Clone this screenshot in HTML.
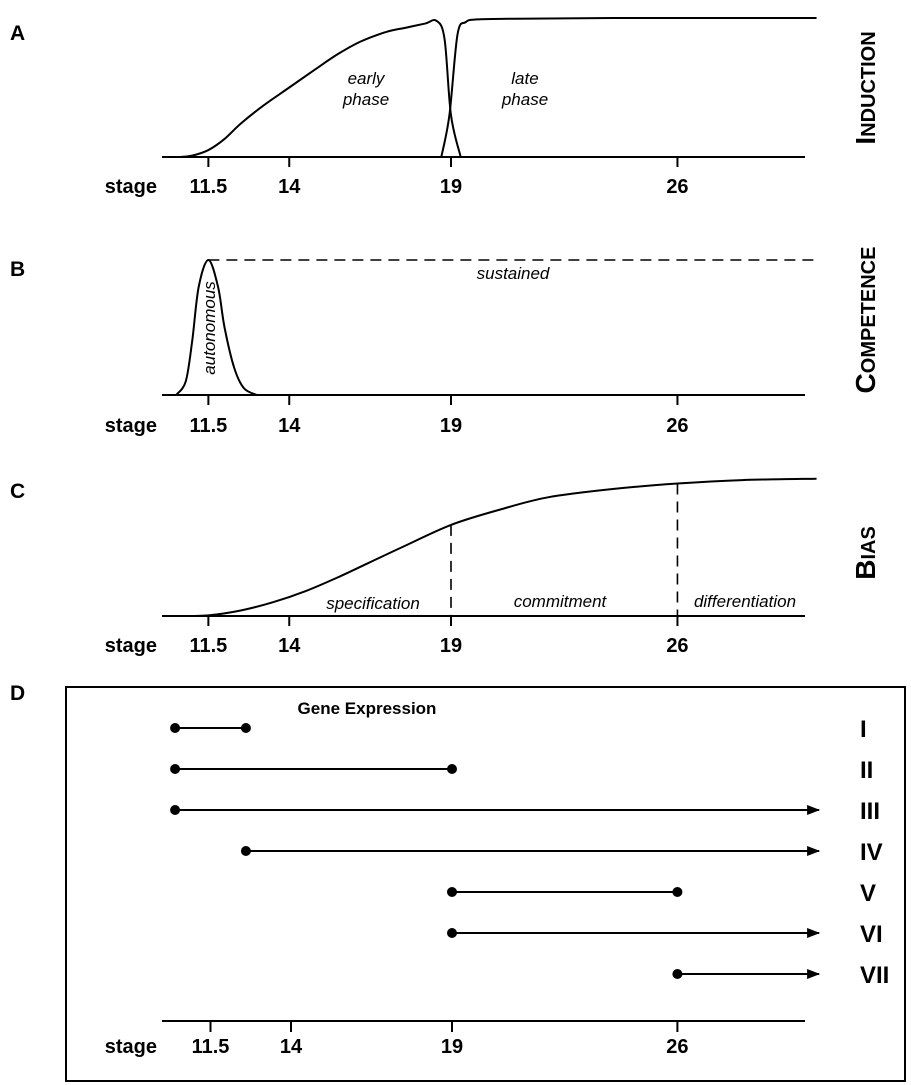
<!DOCTYPE html>
<html><head><meta charset="utf-8"><style>
html,body{margin:0;padding:0;background:#fff;}
svg{display:block;font-family:"Liberation Sans",Arial,sans-serif;}
.tk{font-size:20px;font-weight:bold;text-anchor:middle;}
.it{font-size:17px;font-style:italic;}
.pl{font-size:21px;font-weight:bold;}
.rn{font-size:24px;font-weight:bold;}
</style></head><body>
<svg id="chart" width="911" height="1085" viewBox="0 0 911 1085"></svg>
<script>
// ---- data ----
const tickStages = [11.5, 14, 19, 26];
const tickLabels = ["11.5", "14", "19", "26"];
// Panel A induction (stage, relative level)
const inductionEarlyStage = [10.6, 11.0, 11.5, 12.0, 12.5, 13.2, 14.0, 14.8, 15.5, 16.2, 17.0, 17.6, 18.2, 18.55, 18.8, 19.0, 19.3];
const inductionEarlyLevel = [0, 0.01, 0.05, 0.13, 0.24, 0.37, 0.5, 0.63, 0.74, 0.83, 0.9, 0.93, 0.96, 0.98, 0.85, 0.3, 0];
const inductionLateStage = [18.7, 18.95, 19.2, 19.45, 19.8, 21, 24, 28, 30.3];
const inductionLateLevel = [0, 0.3, 0.88, 0.97, 0.99, 0.995, 1.0, 1.0, 1.0];
// Panel B competence
const competenceStage = [10.5, 10.8, 11.0, 11.2, 11.5, 11.8, 12.0, 12.3, 12.6, 13.0];
const competenceLevel = [0, 0.1, 0.4, 0.8, 1.0, 0.8, 0.5, 0.2, 0.05, 0];
const sustainedStart = 11.5, sustainedEnd = 30.3;
// Panel C bias
const biasStage = [10.5, 11.5, 12.5, 13.5, 14.5, 15.5, 16.5, 17.5, 19, 20.5, 22, 24, 26, 28, 30.3];
const biasLevel = [0, 0.005, 0.04, 0.1, 0.18, 0.28, 0.39, 0.5, 0.66, 0.77, 0.86, 0.92, 0.96, 0.985, 0.995];
const biasMarkers = [19, 26];
// Panel D gene expression
const geneNames = ["I", "II", "III", "IV", "V", "VI", "VII"];
const geneStart = [10.4, 10.4, 10.4, 12.6, 19, 19, 26];
const geneEnd = [12.6, 19, 30.4, 30.4, 26, 30.4, 30.4];
const geneOpenEnded = [false, false, true, true, false, true, true];

// ---- drawing ----
const svg = document.getElementById('chart');
const NS = 'http://www.w3.org/2000/svg';
function mk(tag, attrs, parent) {
  const e = document.createElementNS(NS, tag);
  for (const k in attrs) e.setAttribute(k, attrs[k]);
  (parent || svg).appendChild(e);
  return e;
}
function txt(str, attrs, parent) { const t = mk('text', attrs, parent); t.textContent = str; return t; }
const xS = s => 451 + (s - 19) * 32.35;
const xD = s => 452 + (s - 19) * 32.2;

function smoothPath(pts) {
  let d = `M${pts[0][0]},${pts[0][1]}`;
  for (let i = 0; i < pts.length - 1; i++) {
    const p0 = pts[Math.max(0, i - 1)], p1 = pts[i], p2 = pts[i + 1], p3 = pts[Math.min(pts.length - 1, i + 2)];
    const c1x = p1[0] + (p2[0] - p0[0]) / 6, c1y = p1[1] + (p2[1] - p0[1]) / 6;
    const c2x = p2[0] - (p3[0] - p1[0]) / 6, c2y = p2[1] - (p3[1] - p1[1]) / 6;
    d += ` C${c1x},${c1y} ${c2x},${c2y} ${p2[0]},${p2[1]}`;
  }
  return d;
}

function axis(name, y, xf, x0, x1, labelY, tickLen) {
  const g = mk('g', {});
  
  
  mk('line', {x1: x0, x2: x1, y1: y, y2: y, stroke: '#000', 'stroke-width': 2}, g);
  tickStages.forEach((s, i) => {
    mk('line', {x1: xf(s), x2: xf(s), y1: y, y2: y + tickLen, stroke: '#000', 'stroke-width': 2}, g);
    const t = txt(tickLabels[i], {x: xf(s), y: labelY, class: 'tk'}, g);
    
    
  });
  const st = txt('stage', {x: 157, y: labelY, class: 'tk', style: 'text-anchor:end'}, g);
  
  
}
function panelLetter(l, y) {
  const t = txt(l, {x: 10, y: y, class: 'pl'});
  
  
}
function sideTitle(big, small, cy, name) {
  const t = mk('text', {transform: `translate(875,${cy}) rotate(-90)`, 'text-anchor': 'middle', 'font-weight': 'bold', 'font-size': 20});
  
  
  const a = mk('tspan', {'font-size': 28}, t); a.textContent = big;
  const b = mk('tspan', {}, t); b.textContent = small;
}

// Panel A
panelLetter('A', 40);
const baseA = 157, hA = 139;
let p = mk('path', {d: smoothPath(inductionEarlyStage.map((s, i) => [xS(s), baseA - inductionEarlyLevel[i] * hA])), fill: 'none', stroke: '#000', 'stroke-width': 2});


p = mk('path', {d: smoothPath(inductionLateStage.map((s, i) => [xS(s), baseA - inductionLateLevel[i] * hA])), fill: 'none', stroke: '#000', 'stroke-width': 2});


axis('axis-a', baseA, xS, 162, 805, 193, 10);
txt('early', {x: 366, y: 84, class: 'it', 'text-anchor': 'middle'});
txt('phase', {x: 366, y: 105, class: 'it', 'text-anchor': 'middle'});
txt('late', {x: 525, y: 84, class: 'it', 'text-anchor': 'middle'});
txt('phase', {x: 525, y: 105, class: 'it', 'text-anchor': 'middle'});
sideTitle('I', 'NDUCTION', 88, 'induction-title');

// Panel B
panelLetter('B', 276);
const baseB = 395, hB = 135;
p = mk('path', {d: smoothPath(competenceStage.map((s, i) => [xS(s), baseB - competenceLevel[i] * hB])), fill: 'none', stroke: '#000', 'stroke-width': 2});


p = mk('line', {x1: xS(sustainedStart), x2: xS(sustainedEnd), y1: baseB - hB, y2: baseB - hB, stroke: '#000', 'stroke-width': 1.6, 'stroke-dasharray': '11,7'});


axis('axis-b', baseB, xS, 162, 805, 432, 10);
txt('autonomous', {transform: 'translate(215,328) rotate(-90)', class: 'it', 'text-anchor': 'middle'});
txt('sustained', {x: 513, y: 279, class: 'it', 'text-anchor': 'middle'});
sideTitle('C', 'OMPETENCE', 320, 'competence-title');

// Panel C
panelLetter('C', 498);
const baseC = 616, hC = 138;
p = mk('path', {d: smoothPath(biasStage.map((s, i) => [xS(s), baseC - biasLevel[i] * hC])), fill: 'none', stroke: '#000', 'stroke-width': 2});


function interp(s) { for (let i = 0; i < biasStage.length - 1; i++) if (s >= biasStage[i] && s <= biasStage[i + 1]) { const f = (s - biasStage[i]) / (biasStage[i + 1] - biasStage[i]); return biasLevel[i] + f * (biasLevel[i + 1] - biasLevel[i]); } return 1; }
biasMarkers.forEach(s => {
  const l = mk('line', {x1: xS(s), x2: xS(s), y1: baseC - interp(s) * hC, y2: baseC, stroke: '#000', 'stroke-width': 1.6, 'stroke-dasharray': '11,7'});
  
  
});
axis('axis-c', baseC, xS, 162, 805, 652, 10);
txt('specification', {x: 373, y: 609, class: 'it', 'text-anchor': 'middle'});
txt('commitment', {x: 560, y: 607, class: 'it', 'text-anchor': 'middle'});
txt('differentiation', {x: 745, y: 607, class: 'it', 'text-anchor': 'middle'});
sideTitle('B', 'IAS', 553, 'bias-title');

// Panel D
panelLetter('D', 700);
const box = mk('rect', {x: 66, y: 687, width: 839, height: 394, fill: 'none', stroke: '#000', 'stroke-width': 2});


const gt = txt('Gene Expression', {x: 367, y: 714, 'font-size': 17, 'font-weight': 'bold', 'text-anchor': 'middle'});


const defs = mk('defs', {});
const mkr = mk('marker', {id: 'arr', markerWidth: 14, markerHeight: 10, refX: 12, refY: 5, orient: 'auto', markerUnits: 'userSpaceOnUse'}, defs);
mk('path', {d: 'M0,0 L13,5 L0,10 Z', fill: '#000'}, mkr);
geneNames.forEach((n, i) => {
  const y = 728 + i * 41;
  const g = mk('g', {});
  
  
  const x0 = xD(geneStart[i]), x1 = xD(geneEnd[i]);
  const l = mk('line', {x1: x0, x2: x1, y1: y, y2: y, stroke: '#000', 'stroke-width': 2}, g);
  if (geneOpenEnded[i]) l.setAttribute('marker-end', 'url(#arr)');
  mk('circle', {cx: x0, cy: y, r: 5, fill: '#000'}, g);
  if (!geneOpenEnded[i]) mk('circle', {cx: x1, cy: y, r: 5, fill: '#000'}, g);
  txt(n, {x: 860, y: y + 9, class: 'rn'}, g);
});
axis('axis-d', 1021, xD, 162, 805, 1053, 11);
</script>
</body></html>
